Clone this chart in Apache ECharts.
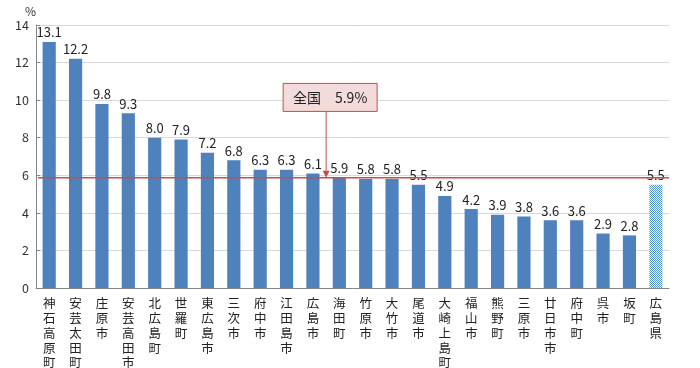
<!DOCTYPE html>
<html><head><meta charset="utf-8">
<script src="https://cdn.jsdelivr.net/npm/echarts@6/dist/echarts.min.js"></script>
<style>html,body{margin:0;padding:0;background:#fff}#c{width:700px;height:368px}</style>
</head><body><div id="c"></div>
<script>
const categories = ['神石高原町','安芸太田町','庄原市','安芸高田市','北広島町','世羅町','東広島市','三次市','府中市','江田島市','広島市','海田町','竹原市','大竹市','尾道市','大崎上島町','福山市','熊野町','三原市','廿日市市','府中町','呉市','坂町','広島県'];
const values = [13.1,12.2,9.8,9.3,8.0,7.9,7.2,6.8,6.3,6.3,6.1,5.9,5.8,5.8,5.5,4.9,4.2,3.9,3.8,3.6,3.6,2.9,2.8,5.5];
const nationalValue = 5.9;
const nationalLabel = '全国　5.9%';
const yTicks = [0,2,4,6,8,10,12,14];

const FONT = '"Noto Sans CJK JP", "Noto Sans", sans-serif';
const BLUE = '#4f81bd';
const RED = '#c0504d';

// checker pattern for prefecture bar
const pc = document.createElement('canvas');
pc.width = 2; pc.height = 2;
const pctx = pc.getContext('2d');
pctx.fillStyle = '#ffffff'; pctx.fillRect(0,0,2,2);
pctx.fillStyle = '#4f8fd6'; pctx.fillRect(0,0,1,1); pctx.fillRect(1,1,1,1);

const data = values.map((v,i) => i === values.length-1
  ? {value: v, itemStyle: {color: {image: pc, repeat: 'repeat'}}}
  : v);

const chart = echarts.init(document.getElementById('c'));
chart.setOption({
  animation: false,
  grid: {left: 36, right: 31, top: 25, bottom: 80, outerBoundsMode: 'none', containLabel: false},
  xAxis: {
    type: 'category', data: categories,
    axisLine: {lineStyle: {color: '#868686'}},
    axisTick: {inside: true, length: 4, lineStyle: {color: '#868686'}},
    axisLabel: {
      interval: 0, color: '#222', fontFamily: FONT, fontSize: 12.5, lineHeight: 14.8,
      margin: 8, verticalAlign: 'top',
      formatter: s => s.split('').join('\n')
    }
  },
  yAxis: {
    type: 'value', min: 0, max: 14, interval: 2,
    name: '%', nameGap: 8, nameTextStyle: {color: '#333', fontFamily: FONT, fontSize: 12, padding: [0,0,0,0], align: 'right'},
    axisLine: {show: true, lineStyle: {color: '#868686'}},
    axisTick: {show: true, inside: true, length: 4, lineStyle: {color: '#868686'}},
    axisLabel: {color: '#333', fontFamily: FONT, fontSize: 12.5, margin: 7,
      formatter: v => yTicks.includes(v) ? String(v) : ''},
    splitLine: {lineStyle: {color: '#d9d9d9'}}
  },
  series: [{
    type: 'bar', data: data, barWidth: '50%',
    itemStyle: {color: BLUE},
    label: {show: true, position: 'top', distance: 3, color: '#222', fontFamily: FONT, fontSize: 13,
      formatter: p => p.value.toFixed(1)}
  }]
});

function drawAnnotation(){
  const i0 = chart.convertToPixel({xAxisIndex:0}, 10);
  const i1 = chart.convertToPixel({xAxisIndex:0}, 11);
  const ax = (i0 + i1) / 2;
  const yLine = chart.convertToPixel({yAxisIndex:0}, nationalValue) + 0.5;
  const yBoxBottom = chart.convertToPixel({yAxisIndex:0}, 9.4);
  const gridRect = chart.getModel().getComponent('grid').coordinateSystem.getRect();
  const boxH = 28, boxW = 94;
  const bx = ax - 43;
  const by = yBoxBottom - boxH;
  chart.setOption({graphic: [
    {type:'line', shape:{x1:gridRect.x + 2, y1:yLine, x2:gridRect.x + gridRect.width, y2:yLine}, style:{stroke:RED, lineWidth:1.5}, z:99},
    {type:'rect', shape:{x:bx, y:by, width:boxW, height:boxH},
     style:{fill:'#f2dcdb', stroke:RED, lineWidth:1}, z:100},
    {type:'text', x: bx + boxW/2, y: by + boxH/2,
     style:{text: nationalLabel, fill:'#222', font: '14px ' + FONT, align:'center', verticalAlign:'middle'}, z:101},
    {type:'line', shape:{x1:ax, y1:yBoxBottom, x2:ax, y2:yLine-5}, style:{stroke:RED, lineWidth:1}, z:100},
    {type:'polygon', shape:{points:[[ax-3.5,yLine-7],[ax+3.5,yLine-7],[ax,yLine]]}, style:{fill:RED}, z:100}
  ]});
}
drawAnnotation();
</script></body></html>
